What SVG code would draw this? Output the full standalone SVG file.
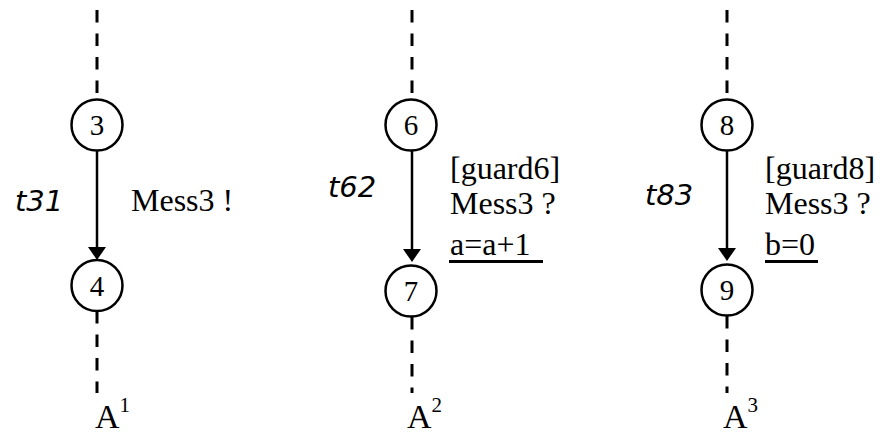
<svg xmlns="http://www.w3.org/2000/svg" width="895" height="437" viewBox="0 0 895 437">
<style>
.st{fill:#fff;stroke:#000;stroke-width:2.5}
.dash{stroke:#000;stroke-width:3;stroke-dasharray:12.5 11;fill:none}
.solid{stroke:#000;stroke-width:2.5;fill:none}
.num{font-family:"Liberation Serif",serif;font-size:29px;text-anchor:middle}
.lab{font-family:"Liberation Serif",serif;font-size:32px}
.tl{font-family:"DejaVu Sans",sans-serif;font-style:italic;font-size:29px}
.ag{font-family:"Liberation Serif",serif;font-size:34px}
</style>
<rect width="895" height="437" fill="#fff"/>
<g id="connectors">
  <line class="dash" x1="97" y1="10" x2="97" y2="100"/>
  <line class="dash" x1="97" y1="311" x2="97" y2="393"/>
  <line class="dash" x1="412" y1="10" x2="412" y2="100"/>
  <line class="dash" x1="412" y1="317" x2="412" y2="393"/>
  <line class="dash" x1="727" y1="10" x2="727" y2="100"/>
  <line class="dash" x1="727" y1="316" x2="727" y2="393"/>
  <g id="t31">
    <line class="solid" x1="97" y1="150" x2="97" y2="248"/>
    <polygon points="88,247 106,247 97,260"/>
  </g>
  <g id="t62">
    <line class="solid" x1="412" y1="150" x2="412" y2="250"/>
    <polygon points="403,249 421,249 412,262"/>
  </g>
  <g id="t83">
    <line class="solid" x1="727" y1="150" x2="727" y2="249"/>
    <polygon points="718,248 736,248 727,261"/>
  </g>
</g>
<g id="n3"><circle class="st" cx="97" cy="125" r="25.5"/><text class="num" x="97" y="135">3</text></g>
<g id="n4"><circle class="st" cx="97" cy="285.5" r="25.5"/><text class="num" x="97" y="295.5">4</text></g>
<g id="n6"><circle class="st" cx="411" cy="125" r="25.5"/><text class="num" x="411" y="135">6</text></g>
<g id="n7"><circle class="st" cx="411" cy="291" r="25.5"/><text class="num" x="411" y="301">7</text></g>
<g id="n8"><circle class="st" cx="727" cy="125" r="25.5"/><text class="num" x="727" y="135">8</text></g>
<g id="n9"><circle class="st" cx="727" cy="290" r="25.5"/><text class="num" x="727" y="300">9</text></g>
<g id="labels">
  <text class="tl" x="15" y="211">t31</text>
  <text class="tl" x="328" y="197">t62</text>
  <text class="tl" x="645" y="205">t83</text>
  <text class="lab" x="131" y="211">Mess3 !</text>
  <text class="lab" x="450" y="179">[guard6]</text>
  <text class="lab" x="450" y="214">Mess3 ?</text>
  <text class="lab" x="450" y="255">a=a+1</text>
  <rect x="449" y="260" width="94" height="3"/>
  <text class="lab" x="765" y="179">[guard8]</text>
  <text class="lab" x="765" y="214">Mess3 ?</text>
  <text class="lab" x="765" y="255">b=0</text>
  <rect x="765" y="260" width="53" height="3"/>
  <text class="ag" x="95" y="428">A<tspan font-size="21" dy="-16">1</tspan></text>
  <text class="ag" x="407" y="428">A<tspan font-size="21" dy="-16">2</tspan></text>
  <text class="ag" x="723" y="428">A<tspan font-size="21" dy="-16">3</tspan></text>
</g>
</svg>
